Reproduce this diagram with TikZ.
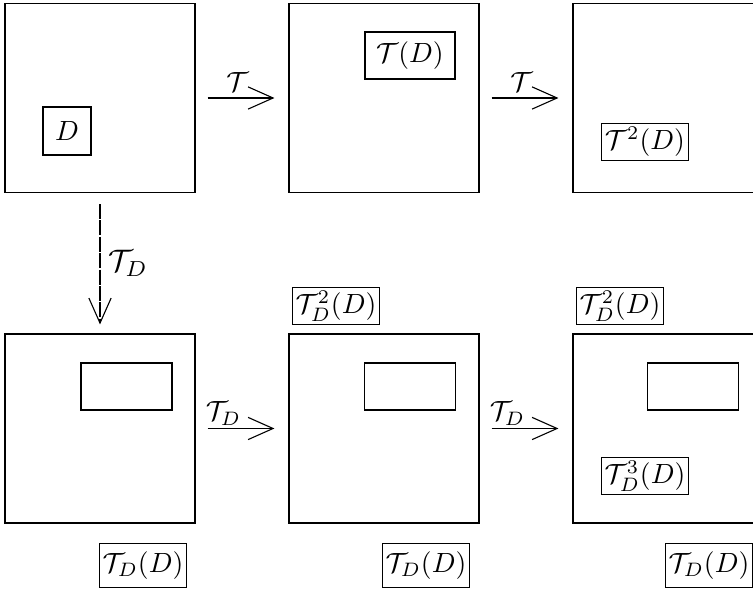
\documentclass[tikz,border=0pt]{standalone}
\usetikzlibrary{arrows.meta}
\begin{document}
\begin{tikzpicture}[x=0.36pt,y=-0.36pt,
  bigsq/.style={draw,line width=0.4pt,minimum width={190*0.36pt},minimum height={189*0.36pt},inner sep=0pt},
  region/.style={draw,line width=0.4pt,inner sep=0pt},
  lab/.style={draw,line width=0.4pt,inner xsep=1.1pt,inner ysep=1.3pt},
  lowlab/.style={lab,minimum height={44*0.36pt}},
  arr/.style={line width=0.4pt,-{Straight Barb[length=9pt,width=8pt,line width=0.4pt]}},
  dasharr/.style={arr,dash pattern=on 5.4pt off 0.5pt}]
\useasboundingbox (0,0) rectangle (753,593);
% squares
\node[bigsq] (a1) at (100,98) {};
\node[bigsq] (a2) at (384,98) {};
\node[bigsq] (a3) at (668,98) {};
\node[bigsq] (b1) at (100,428.5) {};
\node[bigsq] (b2) at (384,428.5) {};
\node[bigsq] (b3) at (668,428.5) {};
% top row regions
\node[region,minimum width={48*0.36pt},minimum height={48*0.36pt}] (d) at (67,131) {$D$};
\node[region,minimum width={90*0.36pt},minimum height={47*0.36pt}] (td) at (410,55.5) {$\mathcal{T}(D)$};
\node[lab] (t2d) at (645,142) {$\mathcal{T}^2(D)$};
% bottom row regions
\node[region,minimum width={91*0.36pt},minimum height={47*0.36pt}] (r1) at (126.5,386.5) {};
\node[region,minimum width={91*0.36pt},minimum height={47*0.36pt}] (r2) at (410,386.5) {};
\node[region,minimum width={91*0.36pt},minimum height={47*0.36pt}] (r3) at (693,386.5) {};
\node[lab] (l2a) at (336,306) {$\mathcal{T}_D^2(D)$};
\node[lab] (l2b) at (620,306) {$\mathcal{T}_D^2(D)$};
\node[lab] (l3) at (645,476) {$\mathcal{T}_D^3(D)$};
\node[lowlab] (l1a) at (143,565.5) {$\mathcal{T}_D(D)$};
\node[lowlab] (l1b) at (426,565.5) {$\mathcal{T}_D(D)$};
\node[lowlab] (l1c) at (709,565.5) {$\mathcal{T}_D(D)$};
% arrows
\draw[arr,shorten <=12*0.36pt,shorten >=14*0.36pt] (a1) -- node[above,pos=0.45,inner sep=2pt] {$\mathcal{T}$} (a2);
\draw[arr,shorten <=12*0.36pt,shorten >=14*0.36pt] (a2) -- node[above,pos=0.45,inner sep=2pt] {$\mathcal{T}$} (a3);
\draw[arr,shorten <=12*0.36pt,shorten >=14*0.36pt] (b1) -- node[above,pos=0.3,inner sep=1pt] {$\mathcal{T}_D$} (b2);
\draw[arr,shorten <=12*0.36pt,shorten >=14*0.36pt] (b2) -- node[above,pos=0.3,inner sep=1pt] {$\mathcal{T}_D$} (b3);
\draw[dasharr,shorten <=11*0.36pt,shorten >=9*0.36pt] (a1) -- node[right,pos=0.5,inner sep=2.5pt,scale=1.12] {$\mathcal{T}_D$} (b1);
\end{tikzpicture}
\end{document}
